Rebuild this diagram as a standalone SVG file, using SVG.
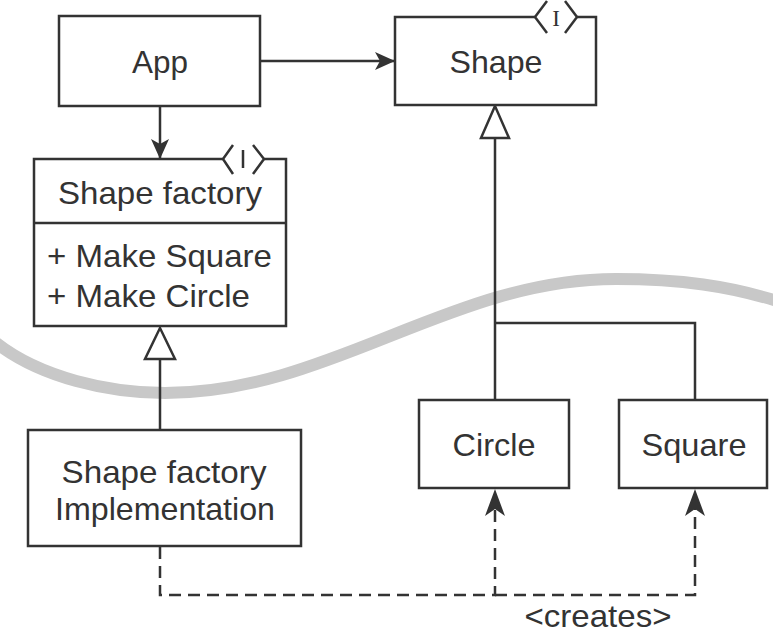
<svg xmlns="http://www.w3.org/2000/svg" width="773" height="634" viewBox="0 0 773 634">
  <style>
    .box { fill: #fff; stroke: #333; stroke-width: 2.5; }
    .line { fill: none; stroke: #333; stroke-width: 2.5; }
    .dash { fill: none; stroke: #333; stroke-width: 2.5; stroke-dasharray: 12 7; }
    .txt { font-family: "Liberation Sans", Arial, sans-serif; font-size: 32px; fill: #333; }
    .mid { text-anchor: middle; }
    .mask { fill: #fff; stroke: none; }
    .tri { fill: #fff; stroke: #333; stroke-width: 2.5; }
    .arr { fill: #333; stroke: none; }
  </style>
  <defs>
    <marker id="filled" viewBox="0 0 20 20" refX="20" refY="10" markerWidth="20" markerHeight="20" markerUnits="userSpaceOnUse" orient="auto">
      <path d="M0,1 L20,10 L0,19 L5,10 Z" class="arr"/>
    </marker>
  </defs>

  <!-- wave -->
  <path d="M -5,342 C 40,378 110,393 165,393 C 330,393 450,279 616,279 C 680,279 730,286 780,302" fill="none" stroke="#c8c8c8" stroke-width="12"/>

  <g id="connectors">
    <line class="line" x1="260" y1="61" x2="395" y2="61" marker-end="url(#filled)"/>
    <line class="line" x1="160" y1="106" x2="160" y2="159" marker-end="url(#filled)"/>
    <polyline class="line" points="495,138 495,400"/>
    <polyline class="line" points="495,323 695,323 695,400"/>
    <polygon class="tri" points="495,106 481,138 509,138"/>
    <line class="line" x1="160" y1="359" x2="160" y2="430"/>
    <polygon class="tri" points="160,328 145,359 175,359"/>
    <polyline class="dash" points="160,547 160,595 495,595 495,500"/>
    <polyline class="dash" points="495,595 695,595 695,500"/>
    <path class="arr" d="M495,489 L505,516 L495,509 L485,516 Z"/>
    <path class="arr" d="M695,489 L705,516 L695,509 L685,516 Z"/>
    <text class="txt mid" x="598" y="627" textLength="147" lengthAdjust="spacingAndGlyphs">&lt;creates&gt;</text>
  </g>

  <g id="app">
    <rect class="box" x="59" y="16" width="201" height="90"/>
    <text class="txt mid" x="160" y="73" textLength="56" lengthAdjust="spacingAndGlyphs">App</text>
  </g>

  <g id="shape">
    <rect class="box" x="395" y="17" width="201" height="88"/>
    <polygon class="mask" points="547,1 535,17 547,33 565,33 577,17 565,1"/>
    <polyline class="line" points="547,1 535,17 547,33"/>
    <polyline class="line" points="565,1 577,17 565,33"/>
    <text x="556" y="26" text-anchor="middle" font-family="'Liberation Serif', serif" font-size="23" fill="#333">I</text>
    <text class="txt mid" x="496" y="73" textLength="93" lengthAdjust="spacingAndGlyphs">Shape</text>
  </g>

  <g id="shape-factory">
    <rect class="box" x="34" y="159" width="252" height="167"/>
    <line class="line" x1="34" y1="223" x2="286" y2="223"/>
    <polygon class="mask" points="233,145 223,159 233,174 253,174 264,159 253,145"/>
    <polyline class="line" points="233,145 223,159 233,174"/>
    <polyline class="line" points="253,145 264,159 253,174"/>
    <line class="line" x1="243" y1="150" x2="243" y2="168"/>
    <text class="txt mid" x="160" y="204" textLength="204" lengthAdjust="spacingAndGlyphs">Shape factory</text>
    <text class="txt" x="47" y="267" textLength="225" lengthAdjust="spacingAndGlyphs">+ Make Square</text>
    <text class="txt" x="47" y="307" textLength="203" lengthAdjust="spacingAndGlyphs">+ Make Circle</text>
  </g>

  <g id="shape-factory-impl">
    <rect class="box" x="28" y="430" width="273" height="116"/>
    <text class="txt mid" x="164" y="483" textLength="205" lengthAdjust="spacingAndGlyphs">Shape factory</text>
    <text class="txt mid" x="165" y="520" textLength="220" lengthAdjust="spacingAndGlyphs">Implementation</text>
  </g>

  <g id="circle">
    <rect class="box" x="419" y="400" width="150" height="88"/>
    <text class="txt mid" x="494" y="456" textLength="83" lengthAdjust="spacingAndGlyphs">Circle</text>
  </g>

  <g id="square">
    <rect class="box" x="619" y="400" width="148" height="88"/>
    <text class="txt mid" x="694" y="456" textLength="105" lengthAdjust="spacingAndGlyphs">Square</text>
  </g>
</svg>
